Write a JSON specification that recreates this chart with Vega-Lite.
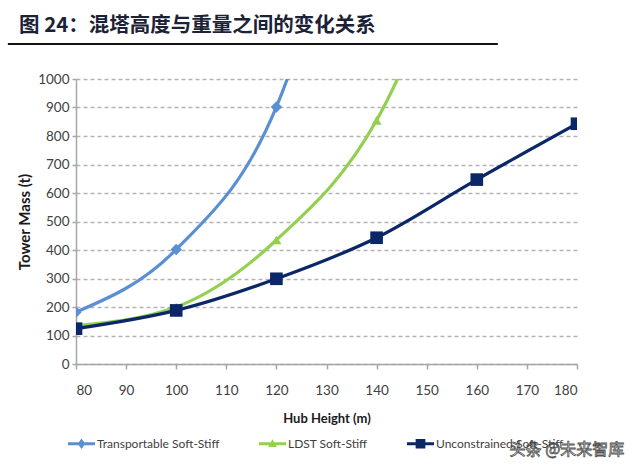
{
  "$schema": "https://vega.github.io/schema/vega-lite/v6.json",
  "width": 501,
  "height": 285,
  "autosize": {"type": "none"},
  "padding": {"left": 76, "top": 79, "right": 63, "bottom": 109},
  "background": "white",
  "title": {
    "text": "图 24：混塔高度与重量之间的变化关系",
    "anchor": "start",
    "frame": "group",
    "dx": -57,
    "offset": 6,
    "font": "Noto Sans CJK SC",
    "fontSize": 20.5,
    "fontWeight": "bold",
    "color": "#1c2236"
  },
  "config": {
    "view": {"stroke": null},
    "axis": {
      "labelFont": "Lato",
      "titleFont": "Lato",
      "labelColor": "#404040",
      "titleColor": "#1a1a1a",
      "domainColor": "#a6a6a6",
      "tickColor": "#a6a6a6",
      "domainWidth": 1.5,
      "tickWidth": 1.5
    },
    "legend": {
      "labelFont": "Lato",
      "title": null,
      "direction": "horizontal",
      "symbolSize": 729,
      "symbolOpacity": 1,
      "symbolStrokeWidth": 0,
      "labelFontSize": 12,
      "labelColor": "#404040",
      "labelOffset": 2,
      "columnPadding": 39
    }
  },
  "data": {
    "values": [
      {"series": "Transportable Soft-Stiff", "x": 80, "y": 182},
      {"series": "Transportable Soft-Stiff", "x": 100, "y": 402},
      {"series": "Transportable Soft-Stiff", "x": 120, "y": 902},
      {"series": "Transportable Soft-Stiff", "x": 140, "y": 2100},
      {"series": "LDST Soft-Stiff", "x": 80, "y": 135},
      {"series": "LDST Soft-Stiff", "x": 100, "y": 200},
      {"series": "LDST Soft-Stiff", "x": 120, "y": 435},
      {"series": "LDST Soft-Stiff", "x": 140, "y": 855},
      {"series": "LDST Soft-Stiff", "x": 160, "y": 1700},
      {"series": "Unconstrained Soft-Stiff", "x": 80, "y": 124},
      {"series": "Unconstrained Soft-Stiff", "x": 100, "y": 188},
      {"series": "Unconstrained Soft-Stiff", "x": 120, "y": 299},
      {"series": "Unconstrained Soft-Stiff", "x": 140, "y": 443},
      {"series": "Unconstrained Soft-Stiff", "x": 160, "y": 647},
      {"series": "Unconstrained Soft-Stiff", "x": 180, "y": 843}
    ]
  },
  "encoding": {
    "x": {
      "field": "x",
      "type": "quantitative",
      "scale": {"domain": [80, 180], "nice": false, "zero": false},
      "axis": {
        "title": "Hub Height (m)",
        "values": [80, 90, 100, 110, 120, 130, 140, 150, 160, 170, 180],
        "grid": false,
        "tickSize": 5,
        "labelFontSize": 13.5,
        "labelPadding": 14,
        "titleFontSize": 13,
        "titleFontWeight": "bold",
        "titlePadding": 16
      }
    },
    "y": {
      "field": "y",
      "type": "quantitative",
      "scale": {"domain": [0, 1000], "nice": false},
      "axis": {
        "title": "Tower Mass (t)",
        "values": [0, 100, 200, 300, 400, 500, 600, 700, 800, 900, 1000],
        "format": "d",
        "tickSize": 4,
        "labelPadding": 3,
        "labelFontSize": 13.5,
        "titleFontSize": 15,
        "titleFontWeight": "bold",
        "titlePadding": 5,
        "gridColor": "#b3b3b3",
        "gridDash": [4, 3],
        "gridWidth": 1.5
      }
    },
    "color": {
      "field": "series",
      "type": "nominal",
      "scale": {
        "domain": ["Transportable Soft-Stiff", "LDST Soft-Stiff", "Unconstrained Soft-Stiff"],
        "range": ["#5a8fd4", "#92d050", "#0b2767"]
      },
      "legend": {"orient": "none", "legendX": -8, "legendY": 351}
    }
  },
  "layer": [
    {
      "mark": {"type": "line", "interpolate": "monotone", "strokeWidth": 3.2, "clip": true}
    },
    {
      "transform": [{"filter": "datum.series === 'Transportable Soft-Stiff'"}],
      "mark": {"type": "point", "shape": "diamond", "filled": true, "opacity": 1, "size": 130, "clip": true}
    },
    {
      "transform": [{"filter": "datum.series === 'LDST Soft-Stiff'"}],
      "mark": {"type": "point", "shape": "triangle-up", "filled": true, "opacity": 1, "size": 100, "clip": true}
    },
    {
      "transform": [{"filter": "datum.series === 'Unconstrained Soft-Stiff'"}],
      "mark": {"type": "point", "shape": "square", "filled": true, "opacity": 1, "size": 160, "clip": true}
    },
    {
      "mark": {"type": "point", "filled": true, "opacity": 1, "size": 729, "clip": true},
      "encoding": {
        "y": {"datum": -5000},
        "shape": {
          "field": "series",
          "type": "nominal",
          "scale": {
            "domain": ["Transportable Soft-Stiff", "LDST Soft-Stiff", "Unconstrained Soft-Stiff"],
            "range": [
              "M-1,-0.11H1V0.11H-1Z M0,-0.38L0.28,0L0,0.38L-0.28,0Z",
              "M-1,-0.11H1V0.11H-1Z M0,-0.34L0.32,0.24L-0.32,0.24Z",
              "M-1,-0.11H1V0.11H-1Z M-0.36,-0.36H0.36V0.36H-0.36Z"
            ]
          },
          "legend": {"orient": "none", "legendX": -8, "legendY": 351}
        }
      }
    },
    {
      "data": {"values": [{"x1": 66.4, "x2": 164.2, "y": 1123}]},
      "mark": {"type": "rule", "color": "#111111", "strokeWidth": 2, "clip": false},
      "encoding": {
        "x": {"field": "x1", "type": "quantitative"},
        "x2": {"field": "x2"},
        "y": {"field": "y", "type": "quantitative"},
        "color": {"value": "#111111"}
      }
    },
    {
      "data": {"values": [{"x": 178, "y": -302, "label": "头条 @未来智库"}]},
      "mark": {
        "type": "text",
        "font": "Noto Sans CJK SC",
        "fontSize": 16,
        "fill": "#ffffff",
        "stroke": "#555555",
        "strokeWidth": 0.8,
        "clip": false
      },
      "encoding": {
        "x": {"field": "x", "type": "quantitative"},
        "y": {"field": "y", "type": "quantitative"},
        "text": {"field": "label"},
        "color": {"value": "#555555"}
      }
    }
  ]
}
